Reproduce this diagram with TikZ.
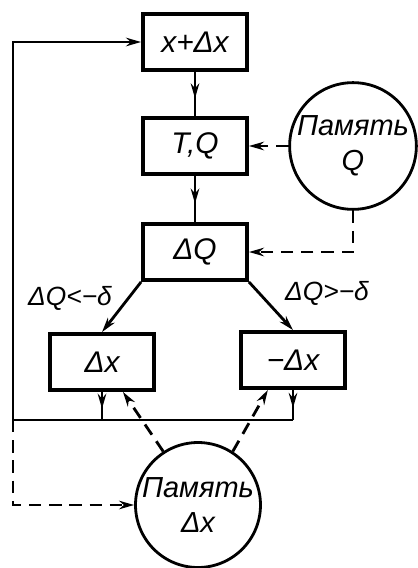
\documentclass[tikz,border=0pt]{standalone}
\usepackage{fontspec}
\setmainfont{Liberation Sans}
\usetikzlibrary{arrows.meta,calc,decorations.markings}
\tikzset{
  >={Stealth[length=3mm,width=1.7mm]},
  rbox/.style={draw=black, line width=2.2pt, minimum width=2.08cm,
               minimum height=1.12cm, inner sep=2pt,
               font=\fontsize{17}{19}\selectfont\itshape},
  rmem/.style={circle, draw=black, line width=1.6pt, minimum size=2.5cm,
               inner sep=0pt, align=center,
               font=\fontsize{16.5}{20}\selectfont\itshape},
  rline/.style={line width=1.6pt},
  rflow/.style={rline, ->},
  rdash/.style={rline, dash pattern=on 7pt off 4.5pt},
  rmid/.style={rline, postaction={decorate},
               decoration={markings, mark=at position 0.6 with {\arrow{>}}}},
  rlbl/.style={font=\fontsize{15}{17}\selectfont\itshape},
}

\begin{document}
\begin{tikzpicture}[x=0.02cm,y=-0.02cm]
  \useasboundingbox (0,0) rectangle (417,568);

  % --- blocks ---
  \node[rbox] (xdx) at (195,42)  {x+Δx};
  \node[rbox] (tq)  at (195,146) {T,Q};
  \node[rbox] (dq)  at (195,252) {ΔQ};
  \node[rbox] (dx)  at (102,362) {Δx};
  \node[rbox] (mdx) at (293,360) {−Δx};

  % --- memory ---
  \node[rmem] (memq)  at (353,146) {Память\\Q};
  \node[rmem] (memdx) at (198,505) {Память\\Δx};

  \node[rlbl] (lneg) at (70,298)  {ΔQ<−δ};
  \node[rlbl] (lpos) at (327,293) {ΔQ>−δ};

  \coordinate (cl) at (13,420);

  % main chain
  \draw[rmid] (xdx) -- (tq);
  \draw[rmid] (tq) -- (dq);
  \draw[rflow] (dq.south west) -- (dx.north);
  \draw[rflow] (dq.south east) -- (mdx.north);

  % loop back
  \draw[rmid] (dx.south) -- (dx.south |- cl);
  \draw[rmid] (mdx.south) -- (mdx.south |- cl);
  \draw[rflow] (mdx.south |- cl) -- (cl) |- (xdx.west);

  % memory links
  \draw[rdash,->] (memq.west) -- (tq.east);
  \draw[rdash,->] (memq.south) |- (dq.east);
  \draw[rdash,->] (memdx.123) -- (dx.-55);
  \draw[rdash,->] (memdx.57) -- (mdx.-130);
  \draw[rdash,->] (cl) |- (memdx.west);

\end{tikzpicture}
\end{document}
